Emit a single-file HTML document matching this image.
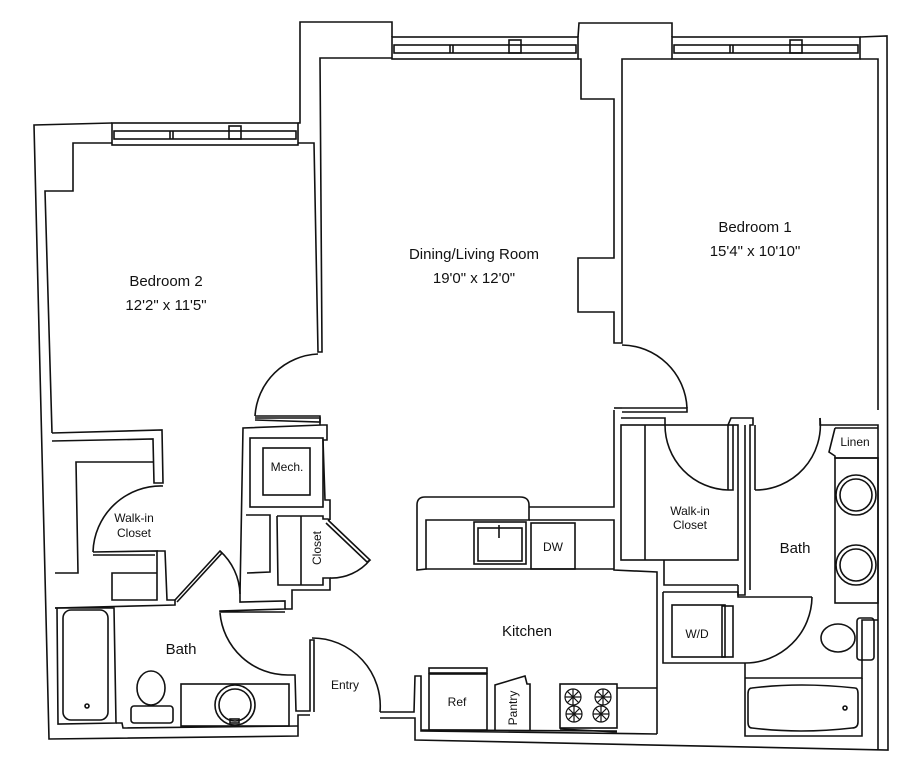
<!DOCTYPE html>
<html><head><meta charset="utf-8"><style>
html,body{margin:0;padding:0;background:#fff;}
svg{display:block;}
text{font-family:"Liberation Sans",sans-serif;fill:#111;}
</style></head><body>
<svg width="922" height="768" viewBox="0 0 922 768" xmlns="http://www.w3.org/2000/svg">
<g fill="none" stroke="#111" stroke-width="1.6" stroke-linejoin="miter">
<!-- Outer boundary -->
<polyline points="112,123 34,125 49,739 298,736 298,715 310,715"/>
<polyline points="298,123 300,123 300,22 392,22 392,37"/>
<polyline points="578,37 579,23 672,23 672,37"/>
<polyline points="860,37 887,36 888,750 415,740 415,718 380,718"/>
<!-- windows -->
<rect x="112" y="123" width="186" height="22"/>
<rect x="114" y="131" width="182" height="8"/>
<line x1="170" y1="131" x2="170" y2="139"/><line x1="173" y1="131" x2="173" y2="139"/>
<rect x="229" y="126" width="12" height="13"/>
<rect x="392" y="37" width="186" height="22"/>
<rect x="394" y="45" width="182" height="8"/>
<line x1="450" y1="45" x2="450" y2="53"/><line x1="453" y1="45" x2="453" y2="53"/>
<rect x="509" y="40" width="12" height="13"/>
<rect x="672" y="37" width="188" height="22"/>
<rect x="674" y="45" width="184" height="8"/>
<line x1="730" y1="45" x2="730" y2="53"/><line x1="733" y1="45" x2="733" y2="53"/>
<rect x="790" y="40" width="12" height="13"/>
<!-- Bedroom 2 inner -->
<polyline points="112,143 73,143 73,191 45,191 52,433"/>
<polyline points="298,143 314,143 318,352 322,352 320,58 392,58"/>
<polyline points="578,59 581,59 581,99 614,99 614,258 578,258 578,312 614,312 614,343 622,343 622,59 672,59"/>
<polyline points="860,59 878,59 878,410"/>
<!-- Bedroom2/living door -->
<path d="M318,354 A66,66 0 0 0 255,416"/>
<polyline points="255,416 320,416 320,422 255,420"/>
<!-- Bedroom1 door -->
<path d="M622,345 A66,66 0 0 1 687,408"/>
<polyline points="622,408 687,408 687,412 622,412"/>
<!-- left walk-in closet -->
<polyline points="52,433 162,430 163,483 154,483 153,439 52,441"/>
<polyline points="153,462 76,462 78,573 55,573"/>
<path d="M163,486 A68,68 0 0 0 93,552"/>
<polyline points="93,552 157,551 157,600 112,600 112,573 157,573"/>
<polyline points="93,555 155,555"/>
<polyline points="157,551 165,551 167,600 175,600 175,605 55,608"/>
<!-- bath 2 door diagonal -->
<polyline points="175,600 220,551 222,553 177,602"/>
<path d="M220,551 A60,60 0 0 1 240,594"/>
<!-- mech cluster -->
<polyline points="240,594 243,428 322,425 327,425 327,440 323,440 325,500 330,500 330,520"/>
<polyline points="255,418 320,418 320,425"/>
<rect x="250" y="438" width="73" height="69"/>
<rect x="263" y="448" width="47" height="47"/>
<polyline points="246,515 270,515 270,572 247,573"/>
<polyline points="277,516 323,516 323,519 328,519 330,520"/>
<polyline points="277,516 278,585 323,585 323,578 330,578 330,590 292,590 292,609 285,609"/>
<line x1="301" y1="516" x2="301" y2="585"/>
<polyline points="328,520 370,560 367,562 326,523"/>
<path d="M370,560 A50,50 0 0 1 330,578"/>
<polyline points="240,594 240,602 285,601 285,609 220,611 220,612 285,612"/>
<!-- bath2 door -->
<path d="M220,613 A68,68 0 0 0 288,675"/>
<polyline points="288,675 295,675 296,711 310,711 310,640 314,640 314,712"/>
<!-- bath 2 fixtures -->
<polyline points="55,608 57,608 58,724 116,723 114,608 55,608"/>
<rect x="63" y="610" width="45" height="110" rx="8"/>
<circle cx="87" cy="706" r="2"/>
<polyline points="116,723 122,723 123,728 298,726"/>
<ellipse cx="151" cy="688" rx="14" ry="17"/>
<rect x="131" y="706" width="42" height="17" rx="3"/>
<rect x="181" y="684" width="108" height="42"/>
<circle cx="235" cy="705" r="20"/><circle cx="235" cy="705" r="16"/>
<rect x="230" y="719" width="9" height="4"/>
<!-- entry door -->
<path d="M312,638 A68,68 0 0 1 380,712"/>
<polyline points="380,712 414,712 415,676 421,676 421,731 657,734"/>
<!-- kitchen -->
<path d="M425,497 L520,497 Q529,497 529,505 L529,520 L426,520 L426,569 L417,570 L417,505 Q417,497 425,497 Z"/>
<polyline points="529,507 614,507 614,410"/>
<polyline points="529,520 614,520 614,570 657,572 657,734"/>
<polyline points="426,569 614,569"/>
<rect x="474" y="522" width="52" height="42"/>
<rect x="478" y="528" width="44" height="33"/>
<line x1="499" y1="525" x2="499" y2="538"/>
<rect x="531" y="523" width="44" height="46"/>
<rect x="429" y="668" width="58" height="5"/>
<rect x="429" y="674" width="58" height="56"/>
<polyline points="495,730 495,685 525,676 527,684 530,684 530,730"/>
<polyline points="421,730 617,731"/>
<rect x="560" y="684" width="57" height="44"/>
<line x1="560" y1="729" x2="617" y2="732"/>
<polyline points="617,688 657,688"/>
<g stroke-width="1.2">
<circle cx="573" cy="697" r="8"/><circle cx="603" cy="697" r="8"/>
<circle cx="574" cy="714" r="8"/><circle cx="601" cy="714" r="8"/>
<path d="M565,697h16M573,689v16M567,691l12,12M579,691l-12,12"/>
<path d="M595,697h16M603,689v16M597,691l12,12M609,691l-12,12"/>
<path d="M566,714h16M574,706v16M568,708l12,12M580,708l-12,12"/>
<path d="M593,714h16M601,706v16M595,708l12,12M607,708l-12,12"/>
</g>
<!-- right side closet/bath -->
<polyline points="614,408 622,408"/>
<polyline points="621,418 665,418 665,425"/>
<rect x="621" y="425" width="117" height="135"/>
<line x1="645" y1="425" x2="645" y2="560"/>
<polyline points="664,560 664,585 738,585"/>
<path d="M665,425 A65,65 0 0 0 728,490"/>
<polyline points="728,490 728,425 731,418 753,418 753,425 750,425 750,590"/>
<polyline points="733,425 733,490 728,490"/>
<polyline points="745,425 745,595 738,595 738,585"/>
<path d="M755,490 A65,65 0 0 0 820,418"/>
<polyline points="755,425 755,490"/>
<polyline points="820,418 820,425 878,425 878,750"/>
<polyline points="835,428 878,428"/>
<polyline points="835,428 829,452 835,456 835,458 878,458"/>
<rect x="835" y="458" width="43" height="145"/>
<circle cx="856" cy="495" r="20"/><circle cx="856" cy="495" r="16"/>
<circle cx="856" cy="565" r="20"/><circle cx="856" cy="565" r="16"/>
<polyline points="663,592 738,592 738,597 745,597 812,597"/>
<polyline points="663,592 663,663 745,663"/>
<rect x="672" y="605" width="53" height="52"/>
<rect x="722" y="606" width="11" height="51"/>
<path d="M812,597 A67,67 0 0 1 745,663"/>
<line x1="745" y1="663" x2="745" y2="678"/>
<ellipse cx="838" cy="638" rx="17" ry="14"/>
<rect x="857" y="618" width="17" height="42" rx="3"/>
<polyline points="745,678 862,678 862,620 878,620"/>
<polyline points="745,678 745,736 862,736 862,678"/>
<path d="M752,688 Q800,682 855,688 Q858,688 858,694 L858,722 Q858,728 852,728 Q800,734 752,728 Q748,728 748,722 L748,694 Q748,688 752,688 Z"/>
<circle cx="845" cy="708" r="2"/>
</g>
<g font-size="15">
<text x="166" y="286" text-anchor="middle">Bedroom 2</text>
<text x="166" y="310" text-anchor="middle">12'2" x 11'5"</text>
<text x="474" y="259" text-anchor="middle">Dining/Living Room</text>
<text x="474" y="283" text-anchor="middle">19'0" x 12'0"</text>
<text x="755" y="232" text-anchor="middle">Bedroom 1</text>
<text x="755" y="256" text-anchor="middle">15'4" x 10'10"</text>
<text x="527" y="636" text-anchor="middle">Kitchen</text>
<text x="181" y="654" text-anchor="middle">Bath</text>
<text x="795" y="553" text-anchor="middle">Bath</text>
</g>
<g font-size="12">
<text x="345" y="689" text-anchor="middle">Entry</text>
<text x="287" y="471" text-anchor="middle">Mech.</text>
<text x="134" y="522" text-anchor="middle">Walk-in</text>
<text x="134" y="537" text-anchor="middle">Closet</text>
<text x="690" y="515" text-anchor="middle">Walk-in</text>
<text x="690" y="529" text-anchor="middle">Closet</text>
<text x="855" y="446" text-anchor="middle">Linen</text>
<text x="553" y="551" text-anchor="middle">DW</text>
<text x="697" y="638" text-anchor="middle">W/D</text>
<text x="457" y="706" text-anchor="middle">Ref</text>
<text transform="translate(321,548) rotate(-90)" text-anchor="middle">Closet</text>
<text transform="translate(517,708) rotate(-90)" text-anchor="middle">Pantry</text>
</g>
</svg>
</body></html>
